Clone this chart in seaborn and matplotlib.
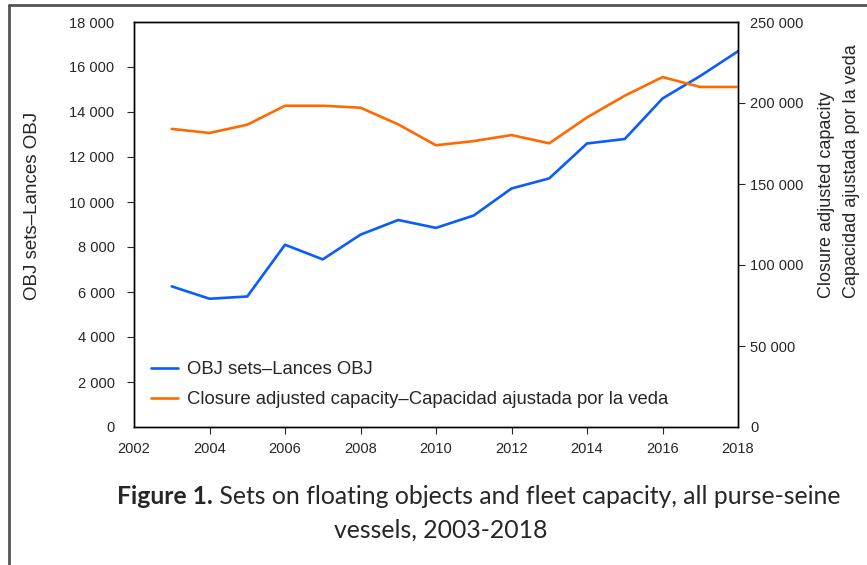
import numpy as np
import pandas as pd
from matplotlib import pyplot as plt
from matplotlib.lines import Line2D
import seaborn as sns

years = list(range(2003, 2019))
obj_sets = [6250, 5700, 5800, 8100, 7450, 8550, 9200, 8850, 9400, 10600,
            11050, 12600, 12800, 14600, 15600, 16700]
capacity = [184000, 181500, 186600, 198300, 198300, 197100, 186800, 173900,
            176500, 180200, 175100, 191100, 204500, 216000, 209900, 209900]

left_ticks = list(range(0, 18001, 2000))
right_ticks = list(range(0, 250001, 50000))
x_ticks = list(range(2002, 2019, 2))

blue = '#0a5cff'
orange = '#ff6a00'

sns.set_style("white")
plt.rcParams['font.family'] = ['Liberation Sans', 'DejaVu Sans']

df = pd.DataFrame({"Year": years, "OBJ": obj_sets, "Capacity": capacity})

fig = plt.figure(figsize=(8.67, 5.65), dpi=100)
ax = fig.add_axes([134 / 867, 1 - 427 / 565, (738 - 134) / 867, (427 - 22) / 565])
ax2 = ax.twinx()

sns.lineplot(data=df, x="Year", y="OBJ", ax=ax, color=blue, linewidth=1.9)
sns.lineplot(data=df, x="Year", y="Capacity", ax=ax2, color=orange, linewidth=1.9)

ax.set_xlim(2002, 2018)
ax.set_ylim(0, 18000)
ax2.set_ylim(0, 250000)
ax.set_xticks(x_ticks)
ax.set_yticks(left_ticks)
ax2.set_yticks(right_ticks)

fmt = lambda v: f"{v:,}".replace(",", " ")
ax.set_xticklabels([str(v) for v in x_ticks], fontsize=10.5)
ax.set_yticklabels([fmt(v) for v in left_ticks], fontsize=10.5)
ax2.set_yticklabels([fmt(v) for v in right_ticks], fontsize=10.5)

ax.tick_params(axis='x', direction='out', length=5, width=0.8, pad=6, bottom=True)
ax.tick_params(axis='y', direction='out', length=5, width=0.8, pad=9, left=True)
ax2.tick_params(axis='y', direction='out', length=5, width=0.8, pad=4, right=True)

# hide tick marks that sit on the corners
for axis in (ax.xaxis, ax.yaxis, ax2.yaxis):
    ticks = axis.get_major_ticks()
    for t in (ticks[0], ticks[-1]):
        t.tick1line.set_visible(False)
        t.tick2line.set_visible(False)

for a in (ax, ax2):
    for s in a.spines.values():
        s.set_visible(True)
        s.set_color('black')
        s.set_linewidth(1.0)

ax.set_xlabel('')
ax.set_ylabel('')
ax2.set_ylabel('')

fig.text(33 / 867, 1 - 206 / 565, 'OBJ sets\u2013Lances OBJ', rotation=90,
         ha='center', va='center', fontsize=13.5)
fig.text(839 / 867, 1 - 298 / 565,
         'Closure adjusted capacity\nCapacidad ajustada por la veda',
         rotation=90, ha='center', va='bottom', multialignment='left',
         fontsize=13, linespacing=1.6)

handles = [Line2D([], [], color=blue, linewidth=1.9),
           Line2D([], [], color=orange, linewidth=1.9)]
ax.legend(handles, ['OBJ sets\u2013Lances OBJ',
                    'Closure adjusted capacity\u2013Capacidad ajustada por la veda'],
          loc='lower left', bbox_to_anchor=(0.0, 0.005), frameon=False,
          fontsize=13.3, handlelength=1.5, handletextpad=0.45, labelspacing=0.72)

# caption
cap = fig.text(117 / 867, 1 - 497 / 565, 'Figure 1.', fontsize=17.8, fontweight='bold',
               family='Lato', ha='left', va='center')
ax.annotate(' Sets on floating objects and fleet capacity, all purse-seine',
            xy=(1, 0), xycoords=cap, ha='left', va='bottom',
            fontsize=17.8, family='Lato', annotation_clip=False)
fig.text(441 / 867, 1 - 530 / 565, 'vessels, 2003-2018', fontsize=17.8,
         family='Lato', ha='center', va='center')

# outer frame
fig.add_artist(Line2D([9 / 867, 9 / 867], [0, 1 - 5 / 565], color='#555555',
                      linewidth=2, transform=fig.transFigure))
fig.add_artist(Line2D([9 / 867, 1], [1 - 5 / 565, 1 - 5 / 565], color='#555555',
                      linewidth=2, transform=fig.transFigure))

fig.savefig('out.png', dpi=100)
